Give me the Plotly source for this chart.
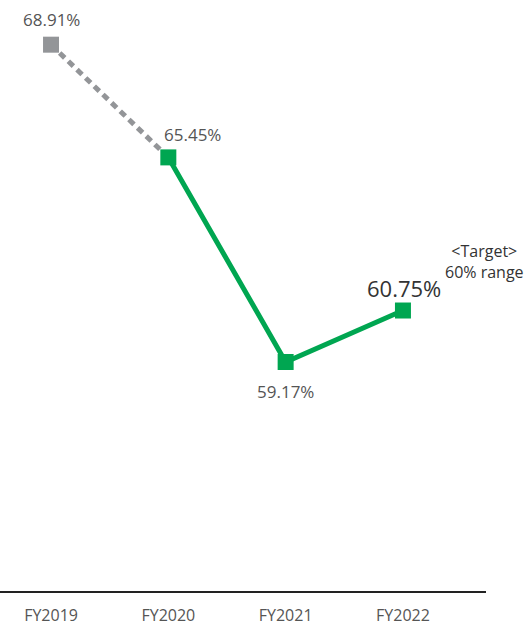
import plotly.graph_objects as go

years = ["FY2019", "FY2020", "FY2021", "FY2022"]
values = [68.91, 65.45, 59.17, 60.75]
labels = ["68.91%", "65.45%", "59.17%", "60.75%"]

GREEN = "#00A651"
GRAY = "#939598"
FONT = "Open Sans"

idx = list(range(len(years)))

fig = go.Figure()
# past (dashed gray) segment
fig.add_trace(go.Scatter(
    x=idx[0:2], y=values[0:2], mode="lines",
    line=dict(color=GRAY, width=5, dash="7px,5px"),
    hoverinfo="skip", showlegend=False))
# solid green segment
fig.add_trace(go.Scatter(
    x=idx[1:], y=values[1:], mode="lines",
    line=dict(color=GREEN, width=5),
    hoverinfo="skip", showlegend=False))
# markers
fig.add_trace(go.Scatter(
    x=idx, y=values, mode="markers",
    marker=dict(symbol="square", size=16,
                color=[GRAY, GREEN, GREEN, GREEN], line=dict(width=0)),
    hoverinfo="skip", showlegend=False))

# value labels
offsets = [(0, 25, 17, "#555555"), (24, 23, 17, "#555555"),
           (0, -30, 17, "#555555"), (1, 23, 22, "#333333")]
for i, (dx, dy, fs, col) in enumerate(offsets):
    fig.add_annotation(x=idx[i], y=values[i], text=labels[i], showarrow=False,
                       xshift=dx, yshift=dy,
                       font=dict(family=FONT, size=fs, color=col))

fig.add_annotation(x=idx[3], y=values[3], text="&lt;Target&gt;<br>60% range",
                   showarrow=False, xshift=82, yshift=49, align="center",
                   font=dict(family=FONT, size=16, color="#333333"))

fig.update_layout(
    width=529, height=626,
    margin=dict(l=0, r=43, t=2, b=30),
    plot_bgcolor="white", paper_bgcolor="white",
    xaxis=dict(range=[-0.435, 3.708], tickvals=idx, ticktext=years,
               showgrid=False, zeroline=False, showline=True,
               linecolor="#222222", linewidth=1.5, ticks="",
               ticklabelstandoff=9,
               tickfont=dict(family=FONT, size=16, color="#555555")),
    yaxis=dict(range=[52.14, 70.22], visible=False, showgrid=False,
               zeroline=False),
)

fig.write_html("out.html")
